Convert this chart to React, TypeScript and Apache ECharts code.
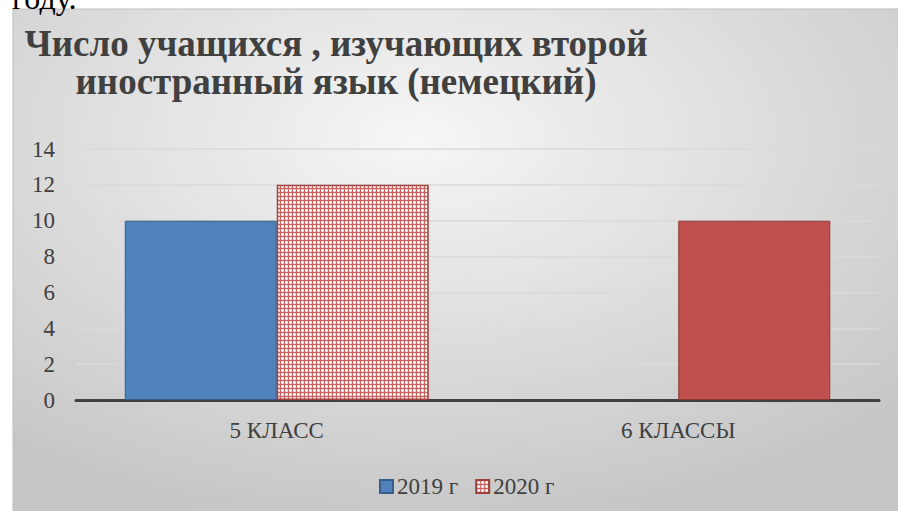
import React, { useEffect, useRef } from "react";
import * as echarts from "echarts";

const categories = ["5 КЛАСС", "6 КЛАССЫ"];
const seriesNames = ["2019 г", "2020 г"];
const values2019 = [10, null];
const values2020 = [12, 10];
const yTicks = { min: 0, max: 14, interval: 2 };
const titleLines = ["Число учащихся , изучающих второй", "иностранный язык (немецкий)"];
const cutText = "году.";

const SERIF = "'Liberation Serif', serif";

function makePattern() {
  const c = document.createElement("canvas");
  c.width = 4;
  c.height = 4;
  const ctx = c.getContext("2d")!;
  ctx.fillStyle = "#ffffff";
  ctx.fillRect(0, 0, 4, 4);
  ctx.fillStyle = "#CC6360";
  ctx.fillRect(0, 0, 4, 1);
  ctx.fillRect(0, 0, 1, 4);
  ctx.fillStyle = "#EBB3B1";
  ctx.fillRect(1, 1, 1, 1);
  ctx.fillRect(3, 1, 1, 1);
  ctx.fillRect(1, 3, 1, 1);
  ctx.fillRect(3, 3, 1, 1);
  return c;
}

export default function App() {
  const ref = useRef<HTMLDivElement>(null);
  useEffect(() => {
    if (!ref.current) return;
    const chart = echarts.init(ref.current, null, { renderer: "svg" });
    const pat = makePattern();
    const patternFill: any = { image: pat, repeat: "repeat", imageWidth: 4, imageHeight: 4 };
    chart.setOption({
      animation: false,
      backgroundColor: "#ffffff",
      graphic: [
        {
          type: "rect",
          z: -10,
          silent: true,
          shape: { x: 13, y: 9, width: 900, height: 520 },
          style: {
            fill: new echarts.graphic.RadialGradient(0.45, 0.25, 0.75, [
              { offset: 0, color: "#f6f6f6" },
              { offset: 1, color: "#c6c6c6" },
            ]),
            stroke: "#bdbdbd",
            lineWidth: 1,
          },
        },
        {
          type: "text",
          x: 12,
          y: 14,
          style: {
            text: cutText,
            fontFamily: SERIF,
            fontSize: 32,
            fill: "#000000",
            textVerticalAlign: "bottom",
          } as any,
        },
        {
          type: "text",
          x: 336,
          y: 43,
          style: {
            text: titleLines[0],
            fontFamily: SERIF,
            fontWeight: "bold",
            fontSize: 37,
            fill: "#404040",
            textAlign: "center",
            textVerticalAlign: "middle",
          },
        },
        {
          type: "text",
          x: 336,
          y: 81,
          style: {
            text: titleLines[1],
            fontFamily: SERIF,
            fontWeight: "bold",
            fontSize: 37,
            fill: "#404040",
            textAlign: "center",
            textVerticalAlign: "middle",
          },
        },
      ],
      legend: {
        left: 374,
        top: 470,
        itemWidth: 13,
        itemHeight: 13,
        itemGap: 17,
        icon: "rect",
        textStyle: { fontFamily: SERIF, fontSize: 23, color: "#404040", padding: [0, 0, 0, -1] },
        data: seriesNames,
      },
      grid: { left: 76, right: 19, top: 149, bottom: 111, containLabel: false },
      xAxis: {
        type: "category",
        data: categories,
        axisLine: { lineStyle: { color: "#404040", width: 3 } },
        axisTick: { show: false },
        axisLabel: { fontFamily: SERIF, fontSize: 23, color: "#404040", margin: 19 },
      },
      yAxis: {
        type: "value",
        min: yTicks.min,
        max: yTicks.max,
        interval: yTicks.interval,
        axisLine: { show: false },
        axisTick: { show: false },
        axisLabel: { fontFamily: SERIF, fontSize: 23, color: "#404040", margin: 21 },
        splitLine: { lineStyle: { color: "#dadada", width: 1.5 } },
      },
      series: [
        {
          name: seriesNames[0],
          type: "bar",
          data: values2019,
          barWidth: 152,
          barGap: "0%",
          itemStyle: { color: "#4F81BD", borderColor: "#385D8A", borderWidth: 1 },
        },
        {
          name: seriesNames[1],
          type: "bar",
          data: values2020.map((v, i) =>
            i === 1
              ? { value: v, itemStyle: { color: "#C0504D", borderColor: "#8C3836", borderWidth: 1 } }
              : v
          ),
          barWidth: 152,
          barGap: "0%",
          itemStyle: { color: patternFill, borderColor: "#A0403D", borderWidth: 1.5 },
        },
      ],
    });
    return () => chart.dispose();
  }, []);
  return (
    <div
      ref={ref}
      style={{ position: "absolute", left: 0, top: 0, width: 898, height: 511 }}
    />
  );
}
